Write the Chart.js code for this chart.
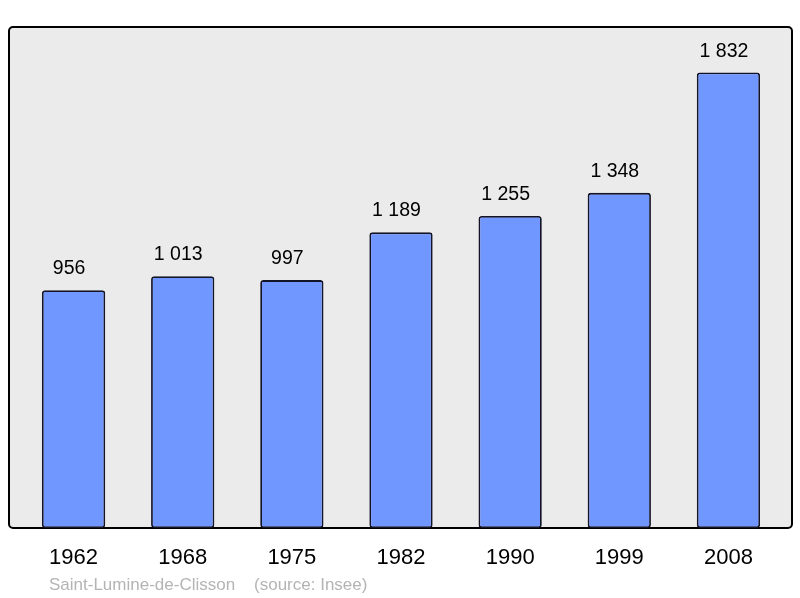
<!DOCTYPE html>
<html>
<head>
<meta charset="utf-8">
<script src="https://cdn.jsdelivr.net/npm/chart.js@4/dist/chart.umd.min.js"></script>
<style>
  html, body { margin: 0; padding: 0; background: #fff; }
  #wrap { width: 800px; height: 598px; position: relative; }
</style>
</head>
<body>
<div id="wrap"><canvas id="chart"></canvas></div>
<script>
/* ──────── DATA ──────── */
const years = ['1962', '1968', '1975', '1982', '1990', '1999', '2008'];
const population = [956, 1013, 997, 1189, 1255, 1348, 1832];
const footerText = 'Saint-Lumine-de-Clisson    (source: Insee)';

const FONT = '"Liberation Sans", Arial, sans-serif';

function formatNum(n) {
  return String(n).replace(/\B(?=(\d{3})+(?!\d))/g, ' ');
}

/* ──────── PLUGINS ──────── */
const frame = {
  id: 'frame',
  beforeDraw(chart) {
    const { ctx, chartArea: a } = chart;
    const x = a.left - 10, y = a.top, w = a.right - a.left + 19, h = a.bottom - a.top;
    ctx.save();
    ctx.beginPath();
    ctx.roundRect(x, y, w, h, 4);
    ctx.fillStyle = '#ebebeb';
    ctx.fill();
    ctx.lineWidth = 2;
    ctx.strokeStyle = '#000';
    ctx.stroke();
    ctx.restore();
  }
};

// labels sit a little left of the bar centre, as in the original
const valueLabels = {
  id: 'valueLabels',
  afterDatasetsDraw(chart) {
    const { ctx } = chart;
    const meta = chart.getDatasetMeta(0);
    ctx.save();
    ctx.font = '19.5px ' + FONT;
    ctx.fillStyle = '#000';
    ctx.textAlign = 'center';
    ctx.textBaseline = 'alphabetic';
    meta.data.forEach((bar, i) => {
      ctx.fillText(formatNum(population[i]), bar.x - 4.5, bar.y - 16);
    });
    ctx.restore();
  }
};

const footer = {
  id: 'footer',
  afterDraw(chart) {
    const { ctx, chartArea: a } = chart;
    ctx.save();
    ctx.font = '17px ' + FONT;
    ctx.fillStyle = '#b4b4b4';
    ctx.textAlign = 'left';
    ctx.textBaseline = 'alphabetic';
    ctx.fillText(footerText, a.left + 30, chart.height - 8);
    ctx.restore();
  }
};

/* ──────── CHART ──────── */
new Chart(document.getElementById('chart'), {
  type: 'bar',
  data: {
    labels: years,
    datasets: [{
      data: population,
      backgroundColor: '#7096ff',
      borderColor: '#141428',
      borderWidth: 1.8,
      borderRadius: 3,
      borderSkipped: false,
      barPercentage: 0.58,
      categoryPercentage: 1
    }]
  },
  options: {
    responsive: true,
    maintainAspectRatio: false,
    animation: false,
    layout: { padding: { top: 27, left: 19, right: 17, bottom: 0 } },
    plugins: {
      legend: { display: false },
      tooltip: { enabled: false }
    },
    scales: {
      x: {
        grid: { display: false, drawTicks: false },
        border: { display: false },
        ticks: { color: '#000', font: { family: FONT, size: 22 }, padding: 17 },
        afterFit(scale) { scale.height = 70; }
      },
      y: {
        display: false,
        min: 0,
        max: 2015
      }
    }
  },
  plugins: [frame, valueLabels, footer]
});
</script>
</body>
</html>
